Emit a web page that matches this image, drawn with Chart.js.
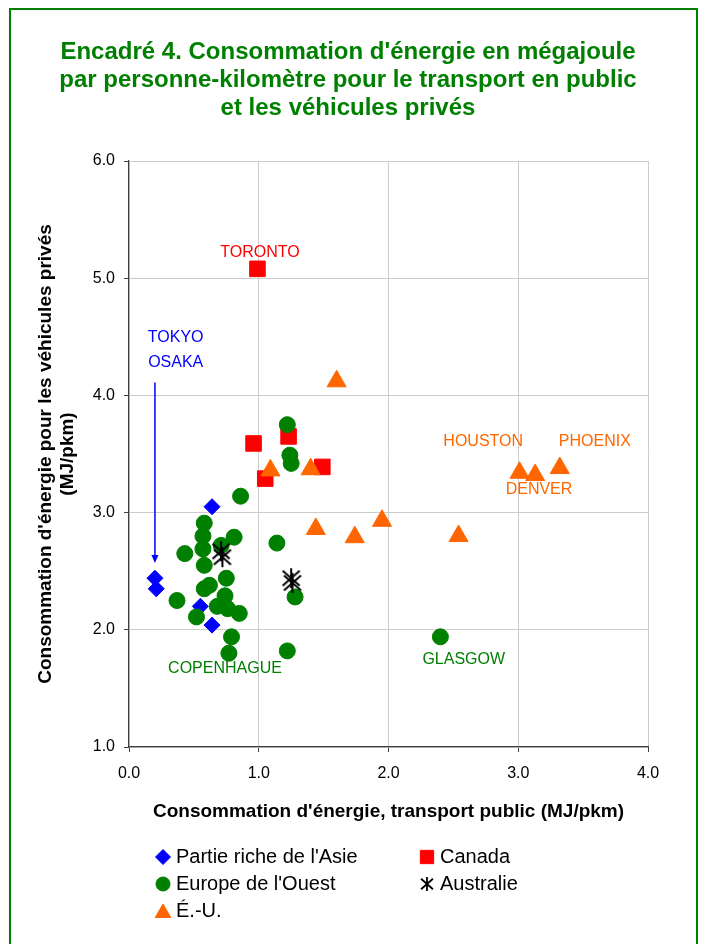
<!DOCTYPE html>
<html>
<head>
<meta charset="utf-8">
<script src="https://cdn.jsdelivr.net/npm/chart.js@4.4.1/dist/chart.umd.min.js"></script>
<style>
  html, body { margin: 0; padding: 0; background: #fff; }
</style>
</head>
<body>
<canvas id="myChart" width="703" height="944"></canvas>
<script>
const FONT = "'Liberation Sans', Arial, sans-serif";
const GREEN = '#008000';

const titleLines = [
  "Encadré 4. Consommation d'énergie en mégajoule",
  "par personne-kilomètre pour le transport en public",
  "et les véhicules privés"
];
const xTitle = "Consommation d'énergie, transport public (MJ/pkm)";
const yTitle = ["Consommation d'énergie pour les véhicules privés", "(MJ/pkm)"];

const xTicks = [0, 1, 2, 3, 4];
const yTicks = [1, 2, 3, 4, 5, 6];

const seriesNames = ["Partie riche de l'Asie", "Canada", "Europe de l'Ouest", "Australie", "É.-U."];
const seriesColors = ['#0000ff', '#ff0000', GREEN, '#000000', '#ff6600'];

const asiaX = [0.20, 0.21, 0.55, 0.64, 0.64];
const asiaY = [2.44, 2.35, 2.20, 2.04, 3.05];

const canadaX = [0.99, 0.96, 1.23, 1.05, 1.49];
const canadaY = [5.08, 3.59, 3.65, 3.29, 3.39];

const europeX = [1.22, 1.24, 1.25, 0.86, 0.58, 0.57, 0.57, 0.58, 0.43, 0.81, 0.71, 1.14, 0.75, 0.62, 0.58,
                 0.74, 0.37, 0.68, 0.76, 0.85, 0.52, 1.28, 0.79, 0.77, 1.22, 2.40];
const europeY = [3.75, 3.49, 3.42, 3.14, 2.91, 2.80, 2.69, 2.55, 2.65, 2.79, 2.72, 2.74, 2.44, 2.38, 2.35,
                 2.29, 2.25, 2.20, 2.18, 2.14, 2.11, 2.28, 1.94, 1.80, 1.82, 1.94];

const australiaX = [0.71, 0.72, 1.25, 1.26];
const australiaY = [2.67, 2.62, 2.44, 2.40];

const usX = [1.60, 1.09, 1.40, 1.44, 1.74, 1.95, 2.54, 3.01, 3.13, 3.32];
const usY = [4.12, 3.36, 3.37, 2.86, 2.79, 2.93, 2.80, 3.34, 3.32, 3.38];

const labelText = ['TORONTO', 'TOKYO', 'OSAKA', 'HOUSTON', 'PHOENIX', 'DENVER', 'GLASGOW', 'COPENHAGUE'];
const labelX = [1.01, 0.36, 0.36, 2.73, 3.59, 3.16, 2.58, 0.74];
const labelY = [5.22, 4.49, 4.28, 3.61, 3.61, 3.20, 1.75, 1.67];
const labelColor = ['#ff0000', '#0000ff', '#0000ff', '#ff6600', '#ff6600', '#ff6600', GREEN, GREEN];

// arrow from the TOKYO/OSAKA label down to the points
const arrowX = 0.20;
const arrowFrom = 4.11;
const arrowTo = 2.57;

function asterisk(size, lw) {
  const c = document.createElement('canvas');
  c.width = size; c.height = size;
  const g = c.getContext('2d');
  g.strokeStyle = '#000';
  g.lineWidth = lw;
  const m = size / 2, r = size / 2 - 1, d = r * 0.85;
  g.beginPath();
  g.moveTo(m, m - r); g.lineTo(m, m + r);
  g.moveTo(m - d, m - r * 0.75); g.lineTo(m + d, m + r * 0.75);
  g.moveTo(m + d, m - r * 0.75); g.lineTo(m - d, m + r * 0.75);
  g.stroke();
  return c;
}

const starBig = asterisk(22, 2);
const starSmall = asterisk(16, 1.8);

function pts(xs, ys) {
  return xs.map((x, i) => ({ x: x, y: ys[i] }));
}

const seriesData = [pts(asiaX, asiaY), pts(canadaX, canadaY), pts(europeX, europeY),
                    pts(australiaX, australiaY), pts(usX, usY)];
const seriesStyle = ['rectRot', 'rect', 'circle', starBig, 'triangle'];
const seriesRadius = [8, 11, 8, 9, 11];
const legendStyle = ['rectRot', 'rect', 'circle', starSmall, 'triangle'];
const legendRadius = [7.5, 9.4, 7, 7, 9];

const frame = {
  id: 'frame',
  beforeDraw(chart) {
    const ctx = chart.ctx;
    ctx.save();
    ctx.fillStyle = '#fff';
    ctx.fillRect(0, 0, chart.width, chart.height);
    ctx.strokeStyle = GREEN;
    ctx.lineWidth = 2;
    ctx.strokeRect(10, 9, 687, 1000);
    // title block
    ctx.fillStyle = GREEN;
    ctx.font = 'bold 24px ' + FONT;
    ctx.textAlign = 'center';
    ctx.textBaseline = 'middle';
    titleLines.forEach((t, i) => ctx.fillText(t, 348, 52 + i * 28));
    ctx.restore();
  }
};

const cityLabels = {
  id: 'cityLabels',
  afterDatasetsDraw(chart) {
    const ctx = chart.ctx;
    const xs = chart.scales.x, ys = chart.scales.y;
    ctx.save();
    ctx.font = '16px ' + FONT;
    ctx.textAlign = 'center';
    ctx.textBaseline = 'middle';
    labelText.forEach((t, i) => {
      ctx.fillStyle = labelColor[i];
      ctx.fillText(t, xs.getPixelForValue(labelX[i]), ys.getPixelForValue(labelY[i]));
    });
    // arrow
    const ax = xs.getPixelForValue(arrowX);
    const y1 = ys.getPixelForValue(arrowFrom), y2 = ys.getPixelForValue(arrowTo);
    ctx.strokeStyle = '#0000ff';
    ctx.fillStyle = '#0000ff';
    ctx.lineWidth = 1.5;
    ctx.beginPath();
    ctx.moveTo(ax, y1);
    ctx.lineTo(ax, y2 - 6);
    ctx.stroke();
    ctx.beginPath();
    ctx.moveTo(ax - 3.5, y2 - 8);
    ctx.lineTo(ax + 3.5, y2 - 8);
    ctx.lineTo(ax, y2);
    ctx.closePath();
    ctx.fill();
    ctx.restore();
  }
};

const sideLegend = {
  id: 'sideLegend',
  afterDraw(chart) {
    const ctx = chart.ctx;
    ctx.save();
    ctx.font = '20px ' + FONT;
    ctx.textBaseline = 'middle';
    ctx.textAlign = 'left';
    seriesNames.forEach((name, i) => {
      const col = i % 2, row = Math.floor(i / 2);
      const mx = [163, 427][col];
      const tx = [176, 440][col];
      const y = 857 + row * 27;
      ctx.fillStyle = seriesColors[i];
      ctx.strokeStyle = seriesColors[i];
      ctx.lineWidth = 1;
      Chart.helpers.drawPoint(ctx, {
        pointStyle: legendStyle[i], radius: legendRadius[i], rotation: 0, borderWidth: 1
      }, mx, i === 4 ? y + 2 : y);
      ctx.fillStyle = '#000';
      ctx.fillText(name, tx, y);
    });
    ctx.restore();
  }
};

const config = {
  type: 'scatter',
  data: {
    datasets: seriesNames.map((name, i) => ({
      label: name,
      data: seriesData[i],
      pointStyle: seriesStyle[i],
      pointRadius: seriesRadius[i],
      pointHoverRadius: seriesRadius[i],
      backgroundColor: seriesColors[i],
      borderColor: seriesColors[i],
      borderWidth: 1,
      order: seriesNames.length - i
    }))
  },
  options: {
    responsive: false,
    animation: false,
    layout: { padding: { left: 0, right: 55, top: 161, bottom: 117 } },
    plugins: {
      legend: { display: false },
      tooltip: { enabled: false },
      title: { display: false }
    },
    scales: {
      x: {
        type: 'linear',
        min: 0,
        max: 4,
        afterFit(scale) { scale.height = 80; },
        afterBuildTicks(scale) { scale.ticks = xTicks.map(v => ({ value: v })); },
        ticks: {
          color: '#000',
          font: { family: FONT, size: 16 },
          padding: 12,
          callback: (v) => v.toFixed(1)
        },
        grid: { color: '#cccccc', tickColor: '#404040', tickLength: 5 },
        border: { color: '#404040', width: 1.2 },
        title: {
          display: true,
          text: xTitle,
          color: '#000',
          font: { family: FONT, size: 19, weight: 'bold', lineHeight: 1.2 },
          padding: { top: 0, bottom: 4 }
        }
      },
      y: {
        type: 'linear',
        min: 1,
        max: 6,
        afterFit(scale) { scale.width = 129; },
        afterBuildTicks(scale) { scale.ticks = yTicks.map(v => ({ value: v })); },
        ticks: {
          color: '#000',
          font: { family: FONT, size: 16 },
          padding: 9,
          callback: (v) => v.toFixed(1)
        },
        grid: { color: '#cccccc', tickColor: '#404040', tickLength: 5 },
        border: { color: '#404040', width: 1.2 },
        title: {
          display: true,
          text: yTitle,
          color: '#000',
          font: { family: FONT, size: 19, weight: 'bold', lineHeight: 1.2 },
          padding: { top: 34, bottom: 0 }
        }
      }
    }
  },
  plugins: [frame, cityLabels, sideLegend]
};

const ctx = document.getElementById('myChart');
const myChart = new Chart(ctx, config);
</script>
</body>
</html>
